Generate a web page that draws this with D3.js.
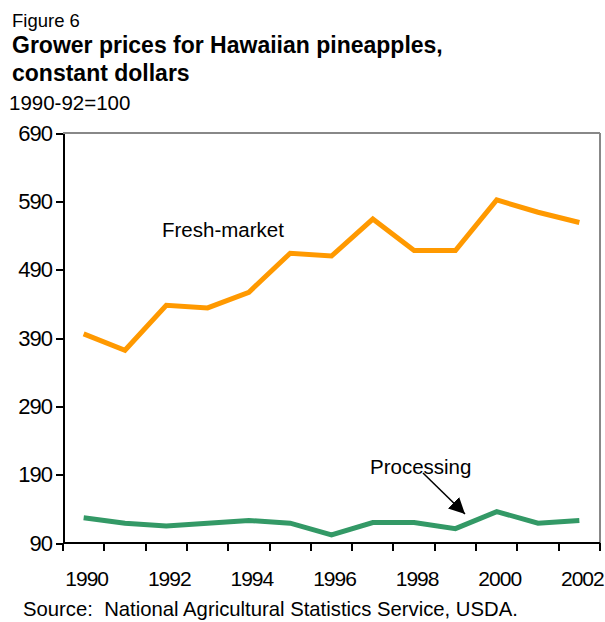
<!DOCTYPE html>
<html lang="en">
<head>
<meta charset="utf-8" />
<title>Figure 6</title>
<style>
  body { margin: 0; background: #fff; }
  svg text { font-family: "Liberation Sans", Arial, sans-serif; fill: #000; }
  .axis path, .axis line { stroke: #000; stroke-width: 2px; shape-rendering: crispEdges; }
  .axis text { font-size: 21px; letter-spacing: -1px; }
  .yax text { font-size: 22px; }
</style>
</head>
<body>
<div id="chart"></div>
<script src="https://cdn.jsdelivr.net/npm/d3@7"></script>
<script>
// data (index, 1990-92=100)
var years = [1990, 1991, 1992, 1993, 1994, 1995, 1996, 1997, 1998, 1999, 2000, 2001, 2002];
var freshMarket = [396, 372, 438, 434, 457, 514, 510, 564, 518, 518, 592, 574, 559];
var processing = [127, 119, 115, 119, 123, 119, 102, 120, 120, 111, 136, 119, 123];
var yTicks = [90, 190, 290, 390, 490, 590, 690];
var xLabels = [1990, 1992, 1994, 1996, 1998, 2000, 2002];

var width = 605, height = 622;
var margin = {top: 133, right: 5, bottom: 79, left: 63};
var w = width - margin.left - margin.right;
var h = height - margin.top - margin.bottom;

var svg = d3.select("#chart").append("svg")
    .attr("width", width)
    .attr("height", height);

// heading texts
svg.append("text").attr("x", 12).attr("y", 27).attr("font-size", "18.5px").text("Figure 6");
svg.append("text").attr("x", 12).attr("y", 53).attr("font-size", "23px").attr("font-weight", "bold")
   .text("Grower prices for Hawaiian pineapples,");
svg.append("text").attr("x", 12).attr("y", 81).attr("font-size", "23px").attr("font-weight", "bold")
   .text("constant dollars");
svg.append("text").attr("x", 9).attr("y", 110).attr("font-size", "20.5px").text("1990-92=100");
svg.append("text").attr("x", 23).attr("y", 616).attr("font-size", "20.3px")
   .attr("xml:space", "preserve")
   .text("Source:  National Agricultural Statistics Service, USDA.");

var g = svg.append("g")
    .attr("transform", "translate(" + margin.left + "," + margin.top + ")");

var x = d3.scaleBand().domain(years).range([0, w]);
var y = d3.scaleLinear().domain([90, 690]).range([h, 0]);

// plot border (top and right are gray)
g.append("line").attr("x1", 0).attr("x2", w).attr("y1", 0).attr("y2", 0)
  .attr("stroke", "#888").attr("stroke-width", 2);
g.append("line").attr("x1", w).attr("x2", w).attr("y1", 0).attr("y2", h)
  .attr("stroke", "#888").attr("stroke-width", 2);

// y axis
var yAxis = g.append("g").attr("class", "axis yax")
  .call(d3.axisLeft(y).tickValues(yTicks).tickSize(7).tickSizeOuter(0));
yAxis.selectAll("text").attr("dx", "-1px");

// x axis: ticks between the categories, labels every second year
var xAxis = g.append("g").attr("class", "axis")
  .attr("transform", "translate(0," + h + ")")
  .call(d3.axisBottom(x).tickSize(0).tickFormat(""));
xAxis.select(".domain").remove();
xAxis.append("line").attr("x1", 0).attr("x2", w).attr("y1", 0).attr("y2", 0);
var edges = years.map(function(d) { return x(d); }).concat([w]);
xAxis.selectAll(".edge").data(edges).enter().append("line")
  .attr("class", "edge")
  .attr("x1", function(d) { return d; }).attr("x2", function(d) { return d; })
  .attr("y1", 0).attr("y2", 8);
xAxis.selectAll(".lbl").data(xLabels).enter().append("text")
  .attr("class", "lbl")
  .attr("x", function(d) { return x(d) + x.bandwidth() / 2 + 3; })
  .attr("y", 43)
  .attr("text-anchor", "middle")
  .text(function(d) { return d; });

var line = d3.line()
  .x(function(d, i) { return x(years[i]) + x.bandwidth() / 2; })
  .y(function(d) { return y(d); });

g.append("path").datum(freshMarket)
  .attr("fill", "none").attr("stroke", "#FF9900").attr("stroke-width", 5)
  .attr("d", line);
g.append("path").datum(processing)
  .attr("fill", "none").attr("stroke", "#339966").attr("stroke-width", 5)
  .attr("d", line);

// labels
g.append("text").attr("x", 99).attr("y", 104).attr("font-size", "20.5px").text("Fresh-market");
g.append("text").attr("x", 307).attr("y", 341).attr("font-size", "20.5px").text("Processing");

// arrow pointing to processing line
svg.append("defs").append("marker")
  .attr("id", "arrow").attr("viewBox", "0 0 16 16")
  .attr("refX", 16).attr("refY", 8)
  .attr("markerWidth", 16).attr("markerHeight", 16)
  .attr("markerUnits", "userSpaceOnUse")
  .attr("orient", "auto")
  .append("path").attr("d", "M0,0L16,8L0,16z").attr("fill", "#000");
g.append("line")
  .attr("x1", 360).attr("y1", 340).attr("x2", 402).attr("y2", 381)
  .attr("stroke", "#000").attr("stroke-width", 1.5)
  .attr("marker-end", "url(#arrow)");
</script>
</body>
</html>
